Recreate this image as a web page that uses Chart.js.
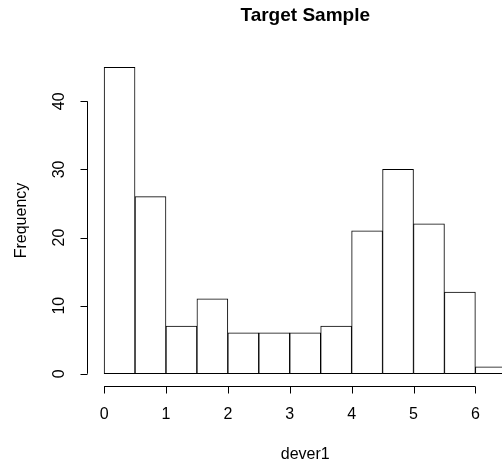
<!DOCTYPE html>
<html>
<head>
<meta charset="utf-8">
<script src="https://cdn.jsdelivr.net/npm/chart.js@4/dist/chart.umd.min.js"></script>
<style>
  html, body { margin: 0; padding: 0; background: #fff; overflow: hidden; }
  #wrap { width: 502px; height: 462px; }
</style>
</head>
<body>
<div id="wrap"><canvas id="hist"></canvas></div>
<script>
// histogram bins (width 0.5) and counts
const binStarts = [0, 0.5, 1, 1.5, 2, 2.5, 3, 3.5, 4, 4.5, 5, 5.5, 6];
const counts = [45, 26, 7, 11, 6, 6, 6, 7, 21, 30, 22, 12, 1];
const xTicks = [0, 1, 2, 3, 4, 5, 6];
const yTicks = [0, 10, 20, 30, 40];
const binWidth = 0.5;

const FONT = '"Liberation Sans", Arial, Helvetica, sans-serif';

// draws base-R style axes, labels and title
const rAxes = {
    id: 'rAxes',
    afterDraw(chart) {
        const ctx = chart.ctx;
        const xs = chart.scales.x, ys = chart.scales.y;
        const area = chart.chartArea;
        ctx.save();
        ctx.strokeStyle = '#000';
        ctx.fillStyle = '#000';
        ctx.lineWidth = 1;

        // x axis
        const ax = Math.round(area.bottom) + 0.5;
        ctx.beginPath();
        ctx.moveTo(xs.getPixelForValue(xTicks[0]), ax);
        ctx.lineTo(xs.getPixelForValue(xTicks[xTicks.length - 1]), ax);
        xTicks.forEach(t => {
            const px = Math.round(xs.getPixelForValue(t)) + 0.5;
            ctx.moveTo(px, ax);
            ctx.lineTo(px, ax + 7);
        });
        ctx.stroke();
        ctx.font = '16px ' + FONT;
        ctx.textAlign = 'center';
        ctx.textBaseline = 'middle';
        xTicks.forEach(t => ctx.fillText(String(t), xs.getPixelForValue(t), 415));

        // y axis
        const ay = Math.round(area.left) - 0.5;
        ctx.beginPath();
        ctx.moveTo(ay, ys.getPixelForValue(yTicks[0]));
        ctx.lineTo(ay, ys.getPixelForValue(yTicks[yTicks.length - 1]));
        yTicks.forEach(t => {
            const py = Math.round(ys.getPixelForValue(t)) + 0.5;
            ctx.moveTo(ay, py);
            ctx.lineTo(ay - 7, py);
        });
        ctx.stroke();
        yTicks.forEach(t => {
            ctx.save();
            ctx.translate(60, ys.getPixelForValue(t));
            ctx.rotate(-Math.PI / 2);
            ctx.fillText(String(t), 0, 0);
            ctx.restore();
        });

        // axis titles, centred on the (partly off-canvas) plot region
        const plotCenter = (xs.getPixelForValue(-0.26) + xs.getPixelForValue(6.76)) / 2;
        ctx.fillText('dever1', plotCenter, 455);
        ctx.save();
        ctx.translate(22, (area.top + area.bottom) / 2);
        ctx.rotate(-Math.PI / 2);
        ctx.fillText('Frequency', 0, 0);
        ctx.restore();

        ctx.font = 'bold 19px ' + FONT;
        ctx.fillText('Target Sample', plotCenter, 16);
        ctx.restore();
    }
};

new Chart(document.getElementById('hist'), {
    type: 'bar',
    data: {
        datasets: [{
            label: 'Frequency',
            data: binStarts.map((b, i) => ({ x: b + binWidth / 2, y: counts[i] })),
            backgroundColor: '#ffffff',
            borderColor: '#000000',
            borderWidth: 1,
            borderSkipped: false,
            barPercentage: 1,
            categoryPercentage: 1
        }]
    },
    options: {
        responsive: true,
        maintainAspectRatio: false,
        animation: false,
        layout: { padding: { left: 88, right: 0, top: 55, bottom: 76 } },
        plugins: { legend: { display: false }, tooltip: { enabled: false } },
        scales: {
            x: { type: 'linear', offset: false, min: -0.26, max: 6.43, display: false },
            y: { min: -1.8, max: 46.8, display: false }
        }
    },
    plugins: [rAxes]
});
</script>
</body>
</html>
